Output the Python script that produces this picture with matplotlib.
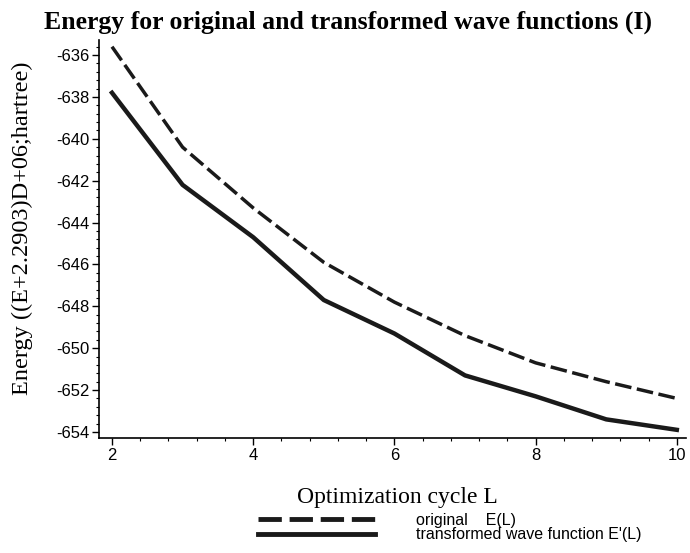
import matplotlib
matplotlib.use("Agg")
import matplotlib.pyplot as plt
from matplotlib.ticker import MultipleLocator

plt.rcParams["axes.unicode_minus"] = False

cycles = [2, 3, 4, 5, 6, 7, 8, 9, 10]
energy_original = [-635.6, -640.4, -643.3, -645.9, -647.8, -649.4, -650.7, -651.6, -652.4]
energy_transformed = [-637.8, -642.2, -644.7, -647.7, -649.3, -651.3, -652.3, -653.4, -653.9]
label_original = "original    E(L)"
label_transformed = "transformed wave function E'(L)"
yticks = [-636, -638, -640, -642, -644, -646, -648, -650, -652, -654]
xticks = [2, 4, 6, 8, 10]

fig = plt.figure(figsize=(6.9, 5.53), dpi=100)
ax = fig.add_axes([99/690, 1-438/553, (686-99)/690, (438-40)/553])

l1, = ax.plot(cycles, energy_original, color="#1a1a1a", lw=2.5, dashes=(4.8, 1.6),
              solid_capstyle="butt")
l2, = ax.plot(cycles, energy_transformed, color="#1a1a1a", lw=3.2)

ax.set_xlim(1.816, 10.13)
ax.set_ylim(-654.29, -635.28)
ax.set_xticks(xticks)
ax.set_yticks(yticks)
ax.xaxis.set_minor_locator(MultipleLocator(0.4))
ax.yaxis.set_minor_locator(MultipleLocator(0.4))
ax.tick_params(axis="both", which="major", direction="out", length=5, width=1,
               labelsize=12, pad=2)
ax.tick_params(axis="both", which="minor", direction="out", length=2.5, width=0.8)
for lab in ax.get_xticklabels() + ax.get_yticklabels():
    lab.set_fontfamily("Liberation Sans")
for s in ["top", "right"]:
    ax.spines[s].set_visible(False)
for s in ["left", "bottom"]:
    ax.spines[s].set_linewidth(1.2)

fig.text(348/690, 1-22/553, "Energy for original and transformed wave functions (I)",
         ha="center", va="center", fontsize=18.5, fontweight="bold",
         family="Liberation Serif")
fig.text(22/690, 1-228/553, "Energy ((E+2.2903)D+06;hartree)", rotation=90,
         ha="center", va="center", fontsize=17.5, family="Liberation Serif")
fig.text(397/690, 1-497/553, "Optimization cycle L", ha="center", va="center",
         fontsize=17, family="Liberation Serif")

leg = fig.legend([l1, l2], [label_original, label_transformed], loc="upper left",
                 bbox_to_anchor=(258/690, 1-513/553), frameon=False,
                 handlelength=7.3, handletextpad=2.6, labelspacing=-0.05,
                 borderaxespad=0, borderpad=0,
                 prop={"family": "Liberation Sans", "size": 11.5})
for h in leg.get_lines():
    h.set_linewidth(3.5)

fig.savefig("out.png", dpi=100)
